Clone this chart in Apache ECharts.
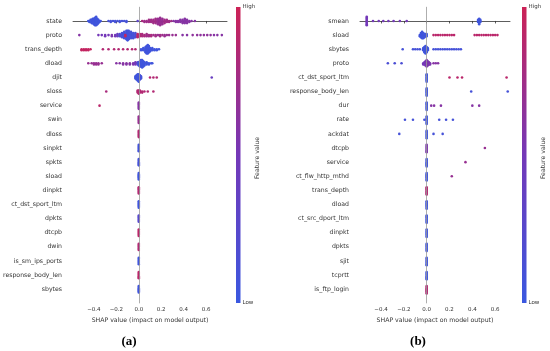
<!DOCTYPE html>
<html>
<head>
<meta charset="utf-8">
<script src="https://cdn.jsdelivr.net/npm/echarts@6/dist/echarts.min.js"></script>
<style>html,body{margin:0;padding:0;background:#fff;}#c{width:550px;height:351px;}</style>
</head>
<body>
<div id="c"></div>
<script>
// ---------- data ----------
const featuresA = ['state','proto','trans_depth','dload','djit','sloss','service','swin','dloss','sinpkt','spkts','sload','dinpkt','ct_dst_sport_ltm','dpkts','dtcpb','dwin','is_sm_ips_ports','response_body_len','sbytes'];
const featuresB = ['smean','sload','sbytes','proto','ct_dst_sport_ltm','response_body_len','dur','rate','ackdat','dtcpb','service','ct_flw_http_mthd','trans_depth','dload','ct_src_dport_ltm','dinpkt','dpkts','sjit','tcprtt','is_ftp_login'];
const xTicks = [-0.4, -0.2, 0.0, 0.2, 0.4, 0.6];

// each entry: [SHAP value, number of samples at that value, feature value (0 = low, 1 = high)]
const samplesA = [
  [[-0.45,1,.05],[-0.44,2,.05],[-0.43,3,.05],[-0.42,4,.05],[-0.41,5,.05],[-0.40,6,.05],[-0.39,8,.05],[-0.38,9,.05],[-0.37,6,.05],[-0.36,4,.05],[-0.35,2,.05],[-0.34,1,.05],
   [-0.27,1,.1],[-0.25,2,.1],[-0.23,1,.1],[-0.21,2,.1],[-0.19,1,.1],[-0.17,2,.1],[-0.15,1,.1],[-0.13,1,.1],[-0.11,2,.1],[-0.01,1,.3],
   [0.03,1,.8],[0.05,2,.75],[0.07,2,.75],[0.09,3,.75],[0.11,3,.75],[0.13,4,.75],[0.15,5,.75],[0.17,6,.7],[0.19,8,.7],[0.21,6,.7],[0.23,4,.75],[0.25,3,.75],[0.27,2,.75],[0.29,1,.75],
   [0.31,1,.6],[0.33,2,.6],[0.35,2,.6],[0.37,3,.6],[0.39,4,.6],[0.41,5,.6],[0.43,4,.6],[0.45,2,.6],[0.47,1,.6],[0.50,1,.6]],
  [[-0.53,1,.6],[-0.36,1,.5],[-0.33,1,.5],[-0.30,2,.5],[-0.27,1,.5],[-0.24,2,.55],[-0.21,2,.5],[-0.19,3,.4],[-0.17,3,.2],[-0.15,5,.1],[-0.13,7,.1],[-0.11,9,.08],[-0.10,10,.05],[-0.09,9,.08],[-0.07,7,.1],[-0.05,6,.1],[-0.03,5,.15],[-0.12,2,.95],
   [-0.01,4,.9],[0.01,3,.85],[0.03,3,.8],[0.05,2,.8],[0.07,3,.75],[0.09,2,.75],[0.11,2,.8],[0.13,1,.75],[0.15,2,.75],[0.17,1,.7],[0.19,2,.75],[0.21,1,.75],[0.23,2,.7],[0.25,1,.7],[0.27,1,.7],[0.30,1,.7],[0.33,1,.7],
   [0.39,1,.6],[0.43,1,.6],[0.48,1,.65],[0.52,1,.65],[0.55,1,.65],[0.58,1,.65],[0.61,1,.65],[0.64,1,.65],[0.67,1,.6],[0.70,1,.6],[0.74,1,.6]],
  [[-0.51,2,.95],[-0.49,2,.95],[-0.47,2,.95],[-0.45,2,.95],[-0.43,1,.95],[-0.32,1,.85],[-0.27,1,.85],[-0.22,1,.85],[-0.18,1,.85],[-0.14,1,.85],[-0.10,1,.85],[-0.06,1,.85],[-0.03,1,.85],
   [0.02,2,.05],[0.04,3,.05],[0.06,6,.05],[0.07,8,.05],[0.08,9,.05],[0.09,7,.05],[0.10,4,.05],[0.12,3,.05],[0.14,2,.05],[0.16,2,.05],[0.18,1,.05]],
  [[-0.45,1,.7],[-0.42,1,.7],[-0.40,2,.7],[-0.38,2,.7],[-0.36,2,.7],[-0.33,1,.7],[-0.20,1,.6],[-0.17,1,.6],[-0.14,2,.6],[-0.11,2,.6],[-0.08,2,.6],[-0.05,2,.55],[-0.03,3,.5],[-0.01,3,.3],
   [0.00,4,.05],[0.01,6,.05],[0.02,7,.05],[0.03,8,.05],[0.04,6,.05],[0.05,4,.05],[0.07,3,.05],[0.09,2,.05],[0.11,1,.05],[0.12,1,.05]],
  [[-0.03,3,.05],[-0.02,5,.05],[-0.01,7,.05],[0.00,8,.05],[0.01,5,.1],[0.02,3,.1],[0.10,1,.85],[0.13,1,.85],[0.16,1,.85],[0.65,1,.4]],
  [[-0.29,1,.8],[-0.01,3,.85],[0.00,4,.85],[0.01,3,.85],[0.03,2,.85],[0.05,1,.85],[0.08,1,.85],[0.13,1,.85]],
  [[-0.35,1,.9],[0,7,.6]],
  [[0,7,.7]],
  [[0,7,.85]],
  [[0,7,.08]],
  [[0,7,.1]],
  [[0,7,.05]],
  [[0,7,.85]],
  [[0,7,.05]],
  [[0,7,.25]],
  [[0,7,.9]],
  [[0,7,.85]],
  [[0,7,.05]],
  [[0,7,.9]],
  [[0,7,.05]]
];

const samplesB = [
  [[-0.525,9,.5],[-0.47,1,.5],[-0.42,1,.5],[-0.38,1,.5],[-0.335,1,.5],[-0.29,1,.5],[-0.235,1,.5],[-0.175,1,.5],[0.45,3,.05],[0.46,6,.05],[0.47,3,.05]],
  [[-0.06,2,.05],[-0.05,5,.05],[-0.04,7,.05],[-0.03,6,.05],[-0.02,4,.05],[-0.01,3,.05],[0.00,3,.05],
   [0.06,1,.9],[0.08,1,.9],[0.10,1,.9],[0.12,1,.9],[0.14,1,.9],[0.16,1,.9],[0.18,1,.9],[0.20,1,.9],[0.22,1,.9],[0.24,1,.9],
   [0.42,1,.9],[0.44,1,.9],[0.46,1,.9],[0.48,1,.9],[0.50,1,.9],[0.52,1,.9],[0.54,1,.9],[0.56,1,.9],[0.58,1,.9],[0.60,1,.9],[0.62,1,.9]],
  [[-0.21,1,.1],[-0.12,1,.1],[-0.10,1,.1],[-0.08,1,.1],[-0.06,1,.1],[-0.03,3,.05],[-0.02,6,.05],[-0.01,8,.05],[0.00,6,.05],[0.01,3,.05],
   [0.06,1,.1],[0.08,1,.1],[0.10,1,.1],[0.12,1,.1],[0.14,1,.1],[0.16,1,.1],[0.18,1,.1],[0.20,1,.1],[0.22,1,.1],[0.24,1,.1],[0.26,1,.1],[0.28,1,.1],[0.30,1,.1]],
  [[-0.34,1,.15],[-0.28,1,.15],[-0.22,1,.15],[-0.03,2,.5],[-0.02,3,.5],[-0.01,5,.5],[0.00,7,.55],[0.01,5,.55],[0.02,3,.55],[0.03,2,.55],[0.06,1,.6],[0.08,1,.6],[0.10,1,.6]],
  [[0,8,.05],[0.20,1,.9],[0.27,1,.9],[0.31,1,.9],[0.70,1,.9]],
  [[0,8,.05],[0.39,1,.1],[0.71,1,.1]],
  [[0,8,.05],[0.04,1,.6],[0.065,1,.6],[0.125,1,.6],[0.40,1,.6],[0.46,1,.6]],
  [[-0.19,1,.1],[-0.12,1,.1],[-0.02,1,.1],[0,8,.05],[0.11,1,.1],[0.17,1,.1],[0.23,1,.1]],
  [[-0.24,1,.1],[0,8,.05],[0.06,1,.1],[0.14,1,.1]],
  [[0,8,.55],[0.51,1,.7]],
  [[0,8,.05],[0.34,1,.7]],
  [[0,8,.05],[0.22,1,.7]],
  [[0,8,.85]],
  [[0,8,.05]],
  [[0,8,.05]],
  [[0,8,.05]],
  [[0,8,.05]],
  [[0,8,.05]],
  [[0,8,.05]],
  [[0,8,.85]]
];

// ---------- rendering ----------
const FONT = 'DejaVu Sans';
const LOW = '#3a58e0', MID = '#7438b8', HIGH = '#cc2256';
const STEP = 0.075; // vertical stacking step in row units

function swarm(rows) {
  const out = [];
  rows.forEach((row, i) => {
    row.forEach(([v, n, fv]) => {
      for (let k = 0; k < n; k++) {
        const o = k === 0 ? 0 : (k % 2 ? 1 : -1) * Math.ceil(k / 2);
        out.push([v, i + o * STEP, fv]);
      }
    });
  });
  return out;
}

function fmtTick(v) {
  const s = Math.abs(v).toFixed(1);
  return v < -1e-9 ? '\u2212' + s : s;
}

function xAxisCfg(idx, min, max) {
  return {
    type: 'value', gridIndex: idx, min: min, max: max,
    axisLine: { show: true, lineStyle: { color: '#333', width: 0.8 } },
    axisTick: { show: true, customValues: xTicks, length: 2.5, lineStyle: { color: '#333', width: 0.8 } },
    axisLabel: { customValues: xTicks, formatter: fmtTick, fontSize: 5.5, color: '#333', margin: 3, fontFamily: FONT },
    splitLine: { show: false },
    name: 'SHAP value (impact on model output)', nameLocation: 'middle', nameGap: 12.5,
    nameTextStyle: { fontSize: 6.2, color: '#333', fontFamily: FONT }
  };
}

function yAxisCfg(idx, names) {
  return {
    type: 'value', gridIndex: idx, min: -1, max: 20, interval: 1, inverse: true,
    axisLine: { show: false }, axisTick: { show: false }, splitLine: { show: false },
    axisLabel: {
      formatter: v => { const r = Math.round(v); return (r >= 0 && r < names.length) ? names[r] : ''; },
      fontSize: 6.2, color: '#333', margin: 11, fontFamily: FONT
    }
  };
}

function zeroLine(idx) {
  return {
    type: 'scatter', xAxisIndex: idx, yAxisIndex: idx, data: [], z: 1, silent: true,
    markLine: { silent: true, symbol: 'none', label: { show: false },
      lineStyle: { color: '#999', width: 0.8, type: 'solid' }, data: [{ xAxis: 0 }] }
  };
}

function dots(idx, rows) {
  return {
    type: 'scatter', xAxisIndex: idx, yAxisIndex: idx, data: swarm(rows),
    symbol: 'circle', symbolSize: 2.6, z: 3, silent: true, animation: false,
    itemStyle: { opacity: 1 }
  };
}

function colorbar(x) {
  return [
    { type: 'rect', shape: { x: x, y: 7, width: 4.5, height: 296 },
      style: { fill: new echarts.graphic.LinearGradient(0, 0, 0, 1, [
        { offset: 0, color: HIGH }, { offset: 0.5, color: MID }, { offset: 1, color: LOW }]) } },
    { type: 'text', x: x + 6.5, y: 7, style: { text: 'High', fontSize: 5.5, fill: '#333', fontFamily: FONT, verticalAlign: 'middle' } },
    { type: 'text', x: x + 6.5, y: 303, style: { text: 'Low', fontSize: 5.5, fill: '#333', fontFamily: FONT, verticalAlign: 'middle' } },
    { type: 'text', x: x + 21, y: 158, rotation: Math.PI / 2,
      style: { text: 'Feature value', fontSize: 6.2, fill: '#333', fontFamily: FONT, align: 'center', verticalAlign: 'middle' } }
  ];
}

const chart = echarts.init(document.getElementById('c'), null, { renderer: 'canvas' });
chart.setOption({
  animation: false,
  backgroundColor: '#fff',
  grid: [
    { left: 72, top: 6.84, width: 155, height: 296.5 },
    { left: 360, top: 6.84, width: 150, height: 296.5 }
  ],
  xAxis: [xAxisCfg(0, -0.586, 0.786), xAxisCfg(1, -0.584, 0.73)],
  yAxis: [yAxisCfg(0, featuresA), yAxisCfg(1, featuresB)],
  visualMap: [{
    type: 'continuous', show: false, min: 0, max: 1, dimension: 2, seriesIndex: [2, 3],
    inRange: { color: [LOW, MID, HIGH] }
  }],
  series: [zeroLine(0), zeroLine(1), dots(0, samplesA), dots(1, samplesB)],
  graphic: [
    ...colorbar(236),
    ...colorbar(522),
    { type: 'text', x: 129, y: 342, style: { text: '(a)', fontSize: 13, fontWeight: 'bold', fill: '#000', fontFamily: 'Liberation Serif', align: 'center', verticalAlign: 'middle' } },
    { type: 'text', x: 418, y: 342, style: { text: '(b)', fontSize: 13, fontWeight: 'bold', fill: '#000', fontFamily: 'Liberation Serif', align: 'center', verticalAlign: 'middle' } }
  ]
});
</script>
</body>
</html>
